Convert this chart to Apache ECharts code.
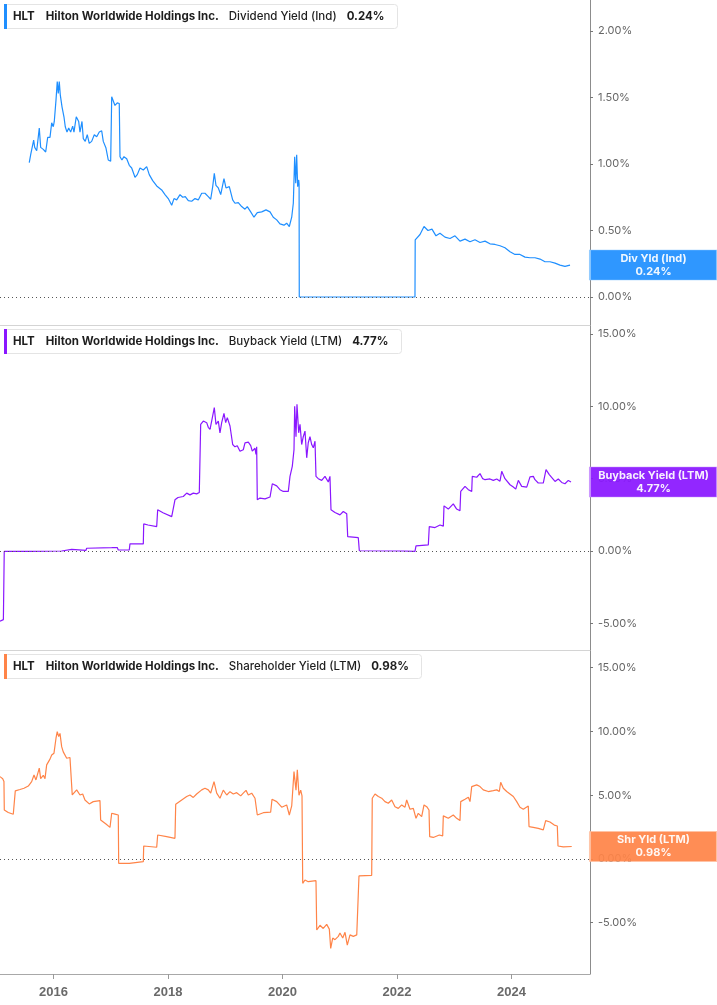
<!DOCTYPE html>
<html>
<head>
<meta charset="utf-8">
<script src="https://cdn.jsdelivr.net/npm/echarts@6/dist/echarts.min.js"></script>
<style>
html, body { margin: 0; padding: 0; background: #fff; }
#chart { width: 717px; height: 1005px; }
</style>
</head>
<body>
<div id="chart"></div>
<script>
// axis ticks
const yearTicks = [2016, 2018, 2020, 2022, 2024]
const divTicks = [0, 0.5, 1, 1.5, 2]
const buyTicks = [-5, 0, 5, 10, 15]
const shrTicks = [-5, 0, 5, 10, 15]

// Dividend Yield (Ind), % — x in decimal years
const divYears = [
  2015.577, 2015.602, 2015.630, 2015.654, 2015.672, 2015.707, 2015.752, 2015.776, 2015.822, 2015.864,
  2015.899, 2015.939, 2015.969, 2015.997, 2016.014, 2016.044, 2016.066, 2016.084, 2016.101, 2016.119,
  2016.149, 2016.183, 2016.206, 2016.236, 2016.266, 2016.300, 2016.335, 2016.358, 2016.398, 2016.440,
  2016.463, 2016.498, 2016.521, 2016.555, 2016.590, 2016.625, 2016.667, 2016.713, 2016.755, 2016.800,
  2016.842, 2016.870, 2016.917, 2016.957, 2016.999, 2017.012, 2017.017, 2017.039, 2017.074, 2017.114,
  2017.149, 2017.158, 2017.162, 2017.196, 2017.231, 2017.279, 2017.324, 2017.366, 2017.424, 2017.464,
  2017.511, 2017.569, 2017.628, 2017.673, 2017.733, 2017.803, 2017.890, 2017.948, 2018.005, 2018.065,
  2018.105, 2018.152, 2018.210, 2018.257, 2018.302, 2018.355, 2018.414, 2018.472, 2018.529, 2018.589,
  2018.646, 2018.704, 2018.746, 2018.781, 2018.809, 2018.838, 2018.879, 2018.921, 2018.978, 2019.013,
  2019.071, 2019.130, 2019.170, 2019.228, 2019.287, 2019.345, 2019.385, 2019.445, 2019.502, 2019.560,
  2019.637, 2019.712, 2019.782, 2019.839, 2019.899, 2019.956, 2020.026, 2020.073, 2020.119, 2020.161,
  2020.189, 2020.213, 2020.231, 2020.248, 2020.265, 2020.283, 2020.290, 2020.293, 2022.314, 2022.318,
  2022.402, 2022.472, 2022.541, 2022.611, 2022.681, 2022.751, 2022.838, 2022.926, 2023.013, 2023.100,
  2023.188, 2023.275, 2023.362, 2023.450, 2023.537, 2023.624, 2023.712, 2023.799, 2023.886, 2023.974,
  2024.061, 2024.148, 2024.236, 2024.323, 2024.410, 2024.498, 2024.585, 2024.672, 2024.760, 2024.847,
  2024.934, 2025.022
]
const divValues = [
  1.01, 1.07, 1.085, 1.18, 1.125, 1.10, 1.27, 1.125, 1.11, 1.09,
  1.20, 1.20, 1.31, 1.28, 1.32, 1.48, 1.62, 1.53, 1.62, 1.52,
  1.43, 1.355, 1.28, 1.24, 1.27, 1.24, 1.285, 1.24, 1.355, 1.32,
  1.24, 1.32, 1.19, 1.17, 1.22, 1.155, 1.17, 1.22, 1.205, 1.24,
  1.25, 1.17, 1.12, 1.03, 1.02, 1.02, 1.505, 1.51, 1.44, 1.46,
  1.455, 1.44, 1.055, 1.03, 1.055, 1.04, 0.99, 0.97, 0.90, 0.92,
  0.97, 0.955, 0.98, 0.92, 0.875, 0.835, 0.805, 0.77, 0.74, 0.69,
  0.74, 0.73, 0.77, 0.75, 0.755, 0.725, 0.72, 0.74, 0.73, 0.78,
  0.78, 0.755, 0.735, 0.83, 0.93, 0.84, 0.82, 0.77, 0.89, 0.82,
  0.83, 0.73, 0.705, 0.71, 0.68, 0.66, 0.68, 0.64, 0.60, 0.635,
  0.64, 0.655, 0.64, 0.60, 0.58, 0.55, 0.54, 0.555, 0.53, 0.60,
  0.705, 1.055, 0.855, 1.07, 0.83, 0.88, 0.85, 0.0, 0.0, 0.43,
  0.47, 0.53, 0.50, 0.51, 0.46, 0.48, 0.45, 0.44, 0.46, 0.42,
  0.435, 0.415, 0.43, 0.41, 0.42, 0.40, 0.395, 0.385, 0.37, 0.34,
  0.32, 0.32, 0.30, 0.295, 0.295, 0.285, 0.265, 0.265, 0.255, 0.24,
  0.23, 0.24
]

// Buyback Yield (LTM), %
const buyYears = [
  2015.066, 2015.125, 2015.140, 2015.590, 2016.143, 2016.161, 2016.318, 2016.335, 2016.568, 2016.580,
  2017.017, 2017.114, 2017.132, 2017.324, 2017.336, 2017.569, 2017.576, 2017.651, 2017.803, 2017.820,
  2017.913, 2018.065, 2018.093, 2018.122, 2018.175, 2018.267, 2018.327, 2018.384, 2018.442, 2018.501,
  2018.547, 2018.559, 2018.571, 2018.617, 2018.676, 2018.704, 2018.734, 2018.763, 2018.809, 2018.838,
  2018.879, 2018.908, 2018.938, 2018.978, 2019.008, 2019.036, 2019.083, 2019.113, 2019.130, 2019.170,
  2019.210, 2019.258, 2019.315, 2019.345, 2019.403, 2019.445, 2019.472, 2019.520, 2019.537, 2019.549,
  2019.560, 2019.607, 2019.695, 2019.782, 2019.811, 2019.822, 2019.899, 2019.956, 2020.014, 2020.102,
  2020.131, 2020.171, 2020.201, 2020.213, 2020.236, 2020.253, 2020.283, 2020.306, 2020.335, 2020.363,
  2020.393, 2020.423, 2020.450, 2020.480, 2020.510, 2020.538, 2020.568, 2020.585, 2020.625, 2020.685,
  2020.742, 2020.800, 2020.829, 2020.847, 2020.917, 2021.004, 2021.062, 2021.122, 2021.139, 2021.324,
  2021.342, 2022.110, 2022.314, 2022.332, 2022.547, 2022.564, 2022.664, 2022.751, 2022.809, 2022.821,
  2022.896, 2022.983, 2023.042, 2023.100, 2023.113, 2023.188, 2023.246, 2023.305, 2023.315, 2023.392,
  2023.450, 2023.497, 2023.537, 2023.624, 2023.682, 2023.742, 2023.799, 2023.829, 2023.886, 2023.974,
  2024.032, 2024.074, 2024.119, 2024.178, 2024.266, 2024.323, 2024.381, 2024.410, 2024.467, 2024.555,
  2024.603, 2024.660, 2024.690, 2024.760, 2024.817, 2024.877, 2024.934, 2024.992, 2025.039
]
const buyValues = [
  -4.85, -4.74, -0.02, -0.02, 0.0, 0.12, 0.12, 0.05, 0.05, 0.19,
  0.23, 0.24, 0.07, 0.07, 0.49, 0.49, 1.875, 1.80, 1.69, 2.85,
  2.65, 2.38, 2.45, 3.54, 3.70, 3.77, 4.0, 3.88, 4.0, 3.95,
  4.05, 4.0, 8.75, 8.98, 8.87, 8.55, 8.4, 8.98, 9.91, 8.75,
  8.98, 8.17, 8.87, 9.51, 8.87, 9.22, 8.64, 8.52, 7.36, 7.2,
  7.28, 6.9, 7.0, 7.48, 7.52, 7.28, 6.9, 7.1, 6.67, 7.2,
  3.54, 3.66, 3.6, 3.73, 3.66, 4.65, 4.5, 4.24, 4.12, 4.12,
  5.16, 5.85, 7.0, 10.0, 7.9, 10.14, 8.17, 8.75, 7.36, 7.9,
  8.29, 6.44, 7.48, 7.9, 7.36, 7.13, 7.59, 5.16, 5.0, 4.88,
  5.16, 4.77, 5.16, 2.85, 2.66, 2.5, 2.73, 2.57, 0.99, 0.92,
  0.02, 0.0, -0.03, 0.35, 0.42, 1.69, 1.62, 1.80, 1.72, 3.12,
  2.9, 3.26, 2.9, 2.78, 4.12, 4.47, 4.24, 4.12, 5.16, 5.1,
  5.35, 5.0, 4.93, 4.98, 4.88, 4.98, 4.83, 5.51, 5.0, 4.58,
  4.42, 4.28, 4.88, 4.47, 4.42, 5.12, 5.16, 4.93, 4.7, 4.7,
  5.63, 5.28, 5.37, 4.81, 4.98, 4.74, 4.65, 4.88, 4.77
]

// Shareholder Yield (LTM), %
const shrYears = [
  2015.066, 2015.113, 2015.135, 2015.141, 2015.210, 2015.298, 2015.328, 2015.333, 2015.415, 2015.485,
  2015.560, 2015.619, 2015.660, 2015.694, 2015.752, 2015.776, 2015.822, 2015.852, 2015.881, 2015.939,
  2015.969, 2016.009, 2016.044, 2016.066, 2016.091, 2016.114, 2016.143, 2016.171, 2016.201, 2016.231,
  2016.288, 2016.318, 2016.328, 2016.405, 2016.463, 2016.510, 2016.550, 2016.625, 2016.695, 2016.812,
  2016.824, 2016.917, 2016.987, 2017.017, 2017.074, 2017.132, 2017.139, 2017.324, 2017.336, 2017.569,
  2017.576, 2017.803, 2017.820, 2017.977, 2018.122, 2018.135, 2018.240, 2018.327, 2018.384, 2018.442,
  2018.501, 2018.589, 2018.646, 2018.704, 2018.746, 2018.804, 2018.851, 2018.908, 2018.966, 2019.026,
  2019.083, 2019.141, 2019.200, 2019.270, 2019.315, 2019.363, 2019.403, 2019.462, 2019.520, 2019.549,
  2019.560, 2019.665, 2019.793, 2019.817, 2019.899, 2019.986, 2020.073, 2020.119, 2020.161, 2020.201,
  2020.236, 2020.259, 2020.288, 2020.318, 2020.341, 2020.353, 2020.393, 2020.450, 2020.585, 2020.598,
  2020.655, 2020.712, 2020.772, 2020.818, 2020.842, 2020.877, 2020.917, 2020.975, 2021.004, 2021.052,
  2021.092, 2021.132, 2021.179, 2021.237, 2021.297, 2021.324, 2021.336, 2021.558, 2021.568, 2021.616,
  2021.674, 2021.733, 2021.790, 2021.848, 2021.907, 2021.965, 2022.023, 2022.082, 2022.140, 2022.169,
  2022.227, 2022.285, 2022.332, 2022.372, 2022.431, 2022.472, 2022.519, 2022.559, 2022.571, 2022.634,
  2022.739, 2022.798, 2022.809, 2022.896, 2022.983, 2023.042, 2023.100, 2023.113, 2023.188, 2023.246,
  2023.275, 2023.305, 2023.392, 2023.450, 2023.507, 2023.595, 2023.682, 2023.742, 2023.787, 2023.811,
  2023.857, 2023.916, 2023.974, 2024.032, 2024.091, 2024.148, 2024.206, 2024.293, 2024.306, 2024.380,
  2024.468, 2024.555, 2024.597, 2024.672, 2024.747, 2024.800, 2024.812, 2024.905, 2025.052
]
const shrValues = [
  6.46, 6.3, 6.07, 3.85, 3.65, 3.51, 3.59, 5.34, 5.45, 5.55,
  5.72, 6.07, 6.59, 6.2, 7.12, 6.3, 6.56, 6.3, 7.38, 7.83,
  8.16, 8.3, 9.47, 9.99, 9.6, 9.85, 8.81, 8.4, 8.3, 7.9,
  7.96, 8.03, 5.02, 5.42, 5.02, 5.1, 4.63, 4.32, 4.5, 4.58,
  3.06, 2.75, 2.48, 3.59, 3.52, 3.45, -0.34, -0.34, -0.21, -0.21,
  1.02, 0.92, 1.88, 1.75, 1.62, 4.29, 4.63, 4.9, 5.02, 4.83,
  5.1, 5.42, 5.55, 5.42, 5.16, 6.07, 5.16, 4.76, 5.4, 5.02,
  5.28, 5.1, 5.2, 4.95, 5.16, 5.38, 5.02, 5.16, 4.76, 4.76,
  3.45, 3.63, 3.67, 4.68, 4.5, 4.06, 4.24, 3.45, 4.16, 6.85,
  5.4, 6.99, 5.0, 5.4, 4.95, -1.91, -1.65, -1.78, -1.70, -5.57,
  -5.2, -5.45, -5.13, -5.5, -7.01, -6.2, -6.33, -6.07, -5.8, -6.2,
  -5.75, -6.75, -5.95, -6.07, -5.95, -5.83, -1.33, -1.28, 4.76, 5.10,
  4.9, 4.77, 4.5, 4.37, 4.63, 4.1, 3.97, 4.24, 4.06, 4.63,
  3.9, 3.97, 3.19, 3.58, 3.32, 4.24, 4.1, 3.84, 1.75, 1.69,
  1.88, 1.81, 3.38, 3.2, 3.45, 3.19, 3.01, 4.5, 4.68, 4.84,
  4.5, 5.68, 5.81, 5.68, 5.42, 5.29, 5.36, 5.42, 5.29, 6.02,
  5.55, 5.29, 5.1, 4.9, 4.5, 4.06, 3.9, 4.16, 2.54, 2.48,
  2.4, 2.28, 3.01, 2.9, 2.66, 2.59, 1.02, 0.95, 0.98
]

const X_MIN = 2015.066
const X_MAX = 2025.371
const FONT = 'Inter, "Noto Sans", sans-serif'

function pairs(xs, ys) {
  return xs.map((x, i) => [x, ys[i]])
}

function xAxisFor(gridIndex, bottom) {
  return {
    type: 'value', gridIndex, min: X_MIN, max: X_MAX,
    axisLine: { show: true, onZero: false, lineStyle: { color: bottom ? '#a8a8a8' : '#d4d4d4' } },
    axisTick: { show: bottom, length: 5, customValues: yearTicks, lineStyle: { color: '#999' } },
    axisLabel: {
      show: bottom, customValues: yearTicks, margin: 12, color: '#6a6a6a',
      fontWeight: 'bold', fontSize: 13, fontFamily: '"Liberation Sans", Arial, sans-serif',
      formatter: v => String(v),
    },
    splitLine: { show: false },
  }
}

function yAxisFor(gridIndex, min, max, ticks) {
  return {
    type: 'value', gridIndex, position: 'right', min, max,
    axisLine: { show: true, onZero: false, lineStyle: { color: '#8c8c8c' } },
    axisTick: { show: true, length: 3, customValues: ticks, lineStyle: { color: '#777' } },
    axisLabel: {
      customValues: ticks, margin: 8, color: '#666', fontSize: 11, fontFamily: FONT,
      formatter: v => v.toFixed(2) + '%',
    },
    splitLine: { show: false },
  }
}

function lineSeries(idx, shortName, color, edge, xs, ys) {
  const last = ys[ys.length - 1]
  return {
    type: 'line', xAxisIndex: idx, yAxisIndex: idx,
    data: pairs(xs, ys),
    symbol: 'none', showSymbol: false,
    lineStyle: { color, width: 1.2 },
    itemStyle: { color },
    markLine: {
      silent: true, symbol: ['none', 'none'], label: { show: false },
      lineStyle: { color: '#555', type: [1, 3], width: 1 },
      data: [{ yAxis: 0 }],
    },
    markPoint: {
      silent: true, symbol: 'rect', symbolSize: [127, 30], symbolOffset: [63.5, 0],
      itemStyle: { color, borderColor: edge, borderWidth: 1, opacity: 0.93 },
      label: {
        show: true, position: 'inside', color: '#fff', fontSize: 11, fontWeight: 'bold',
        fontFamily: FONT, lineHeight: 13,
        formatter: shortName + '\n' + last.toFixed(2) + '%',
      },
      data: [{ coord: [X_MAX, last] }],
    },
  }
}

function legendTitle(top, color, metric, ys) {
  const last = ys[ys.length - 1].toFixed(2) + '%'
  const base = { fontSize: 11.5, color: '#1e1e1e', fontFamily: FONT }
  return {
    left: 4, top,
    text: '{bar|}{t|HLT}{co|Hilton Worldwide Holdings Inc.}{m|' + metric + '}{v|' + last + '}',
    backgroundColor: '#fff', borderColor: '#e4e4e4', borderWidth: 1, borderRadius: 3,
    padding: [0, 13, 0, 0],
    textStyle: {
      rich: {
        bar: { width: 3, height: 25, backgroundColor: color },
        t: { ...base, fontWeight: 'bold', padding: [0, 0, 0, 6] },
        co: { ...base, fontWeight: 'bold', padding: [0, 0, 0, 11] },
        m: { ...base, fontWeight: 500, padding: [0, 0, 0, 10] },
        v: { ...base, fontWeight: 'bold', padding: [0, 0, 0, 10] },
      },
    },
  }
}

const chart = echarts.init(document.getElementById('chart'))
chart.setOption({
  animation: false,
  backgroundColor: '#fff',
  title: [
    legendTitle(4, '#1f8fff', 'Dividend Yield (Ind)', divValues),
    legendTitle(329, '#8a17ff', 'Buyback Yield (LTM)', buyValues),
    legendTitle(654, '#ff8448', 'Shareholder Yield (LTM)', shrValues),
  ],
  grid: [
    { left: 0, right: 127, top: 0, height: 325 },
    { left: 0, right: 127, top: 325, height: 325 },
    { left: 0, right: 127, top: 650, height: 324 },
  ],
  xAxis: [xAxisFor(0, false), xAxisFor(1, false), xAxisFor(2, true)],
  yAxis: [
    yAxisFor(0, -0.2105, 2.233, divTicks),
    yAxisFor(1, -6.84, 15.62, buyTicks),
    yAxisFor(2, -9.02, 16.39, shrTicks),
  ],
  series: [
    lineSeries(0, 'Div Yld (Ind)', '#1f8fff', '#8cc8ff', divYears, divValues),
    lineSeries(1, 'Buyback Yield (LTM)', '#8a17ff', '#c890ff', buyYears, buyValues),
    lineSeries(2, 'Shr Yld (LTM)', '#ff8448', '#ffc2a2', shrYears, shrValues),
  ],
})
</script>
</body>
</html>
